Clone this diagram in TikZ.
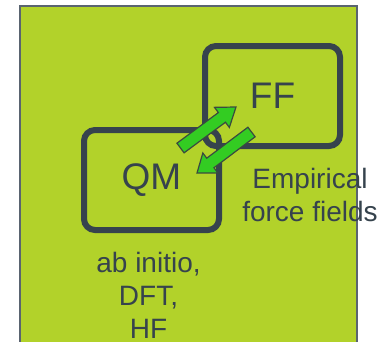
\documentclass[tikz,border=0pt]{standalone}
\usepackage{fontspec}
\setmainfont{Liberation Sans}
\usetikzlibrary{calc}
\definecolor{panelgreen}{HTML}{B2D22A}
\definecolor{paneledge}{HTML}{5A6470}
\definecolor{slate}{HTML}{36434D}
\definecolor{arrowgreen}{HTML}{33CC22}
\definecolor{arrowedge}{HTML}{3A4A40}
\tikzset{
  methodbox/.style={draw=slate, line width=6pt, rounded corners=11pt,
    minimum width=135pt, minimum height=100pt, text=slate,
    font=\fontsize{37}{44}\selectfont},
  caption/.style={text=slate, align=center, inner sep=0pt,
    font=\fontsize{28}{33}\selectfont},
  blockarrow/.style={fill=arrowgreen, draw=arrowedge, line width=1.2pt, line join=miter}
}
\begin{document}
\begin{tikzpicture}[x=1pt, y=-1pt]
  \useasboundingbox (0,0) rectangle (379,341);
  % background panel
  \draw[fill=panelgreen, draw=paneledge, line width=1.3pt] (20,6) rectangle (357,380);

  % the two method boxes
  \node[methodbox] (ff) at (272.5,96) {FF};
  \node[methodbox] (qm) at (151.5,180) {QM};

  % exchange arrows between the boxes
  \coordinate (upA) at (180.5,148);
  \coordinate (upB) at (236,107);
  \coordinate (dnA) at (251.5,132);
  \coordinate (dnB) at (197,173);
  \foreach \a/\b in {upA/upB, dnA/dnB} {
    \coordinate (neck) at ($(\a)!51.5pt!(\b)$);
    \draw[blockarrow]
      ($(\a)!6pt!90:(\b)$) -- ($(neck)!6pt!90:(\b)$) -- ($(neck)!12.5pt!90:(\b)$)
      -- (\b) -- ($(neck)!12.5pt!-90:(\b)$) -- ($(neck)!6pt!-90:(\b)$)
      -- ($(\a)!6pt!-90:(\b)$) -- cycle;
  }

  % labels (base anchor sits on the last line)
  \node[caption, anchor=base] (emp) at (310,221) {Empirical\\force fields};
  \node[caption, anchor=base] (qmtxt) at (148.5,338) {ab initio,\\DFT,\\HF};
\end{tikzpicture}
\end{document}
